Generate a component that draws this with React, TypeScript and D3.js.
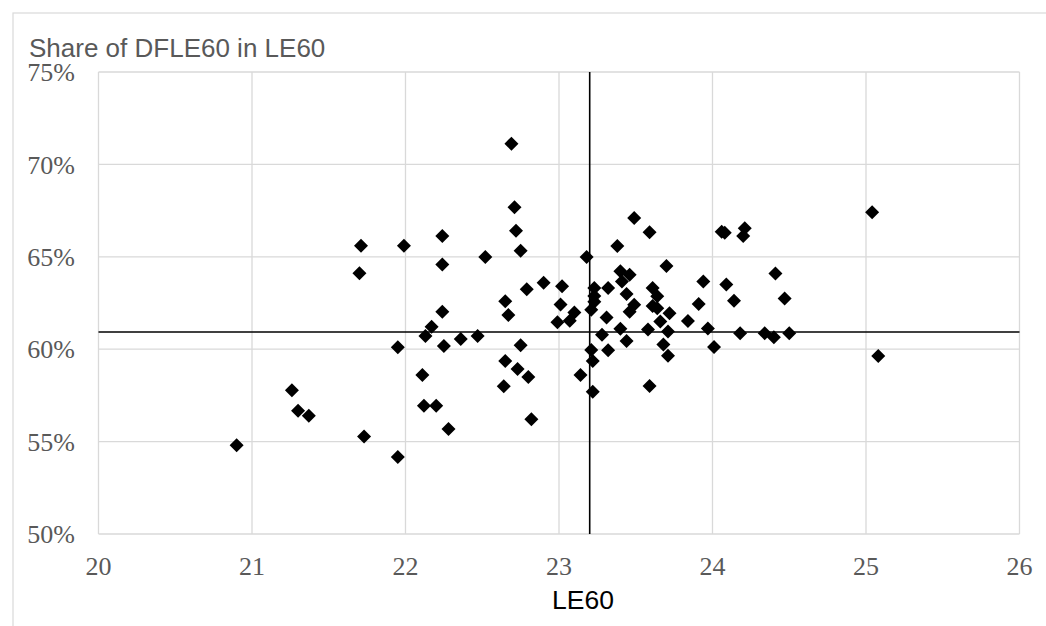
import React from "react";
import * as d3 from "d3";

// LE60 (years) for each point
const le60: number[] = [
  20.9, 21.26, 21.3, 21.37, 21.7, 21.71, 21.73, 21.99, 21.95, 21.95,
  22.11, 22.12, 22.2, 22.13, 22.17, 22.24, 22.24, 22.24, 22.25, 22.28,
  22.36, 22.47, 22.52, 22.64, 22.65, 22.65, 22.67, 22.69, 22.71, 22.72,
  22.73, 22.75, 22.75, 22.79, 22.8, 22.82, 22.9, 22.99, 23.01, 23.02,
  23.07, 23.1, 23.14, 23.18, 23.21, 23.22, 23.22, 23.21, 23.23, 23.23,
  23.23, 23.28, 23.31, 23.32, 23.32, 23.38, 23.4, 23.41, 23.46, 23.44,
  23.4, 23.44, 23.46, 23.49, 23.49, 23.58, 23.59, 23.59, 23.61, 23.64,
  23.61, 23.64, 23.66, 23.68, 23.7, 23.71, 23.71, 23.72, 23.84, 23.91,
  23.94, 23.97, 24.01, 24.06, 24.08, 24.09, 24.14, 24.18, 24.2, 24.21,
  24.34, 24.4, 24.41, 24.47, 24.5, 25.04, 25.08,
];

// Share of DFLE60 in LE60 (%) for each point
const share: number[] = [
  54.8, 57.78, 56.67, 56.4, 64.11, 65.6, 55.27, 65.6, 60.1, 54.17,
  58.6, 56.94, 56.94, 60.71, 61.22, 66.13, 64.59, 62.03, 60.17, 55.68,
  60.55, 60.71, 64.99, 57.99, 62.59, 59.36, 61.85, 71.12, 67.68, 66.41,
  58.93, 60.21, 65.33, 63.24, 58.5, 56.21, 63.6, 61.46, 62.42, 63.4,
  61.54, 61.99, 58.6, 64.99, 59.96, 59.36, 57.7, 62.14, 62.57, 62.88,
  63.31, 60.78, 61.72, 59.94, 63.31, 65.58, 64.22, 63.67, 64.03, 62.99,
  61.11, 60.44, 62.03, 62.41, 67.1, 61.07, 66.33, 58.01, 63.31, 62.86,
  62.34, 62.21, 61.5, 60.25, 64.5, 60.96, 59.65, 61.94, 61.53, 62.44,
  63.67, 61.12, 60.12, 66.36, 66.3, 63.5, 62.62, 60.86, 66.13, 66.54,
  60.86, 60.64, 64.09, 62.75, 60.86, 67.41, 59.63,
];

const xTicks: number[] = [20, 21, 22, 23, 24, 25, 26];
const yTicks: number[] = [50, 55, 60, 65, 70, 75];

const refX = 23.2; // average LE60
const refY = 60.93; // average share

const title = "Share of DFLE60 in LE60";
const xTitle = "LE60";

export default function App() {
  const W = 1046;
  const H = 626;
  const x = d3.scaleLinear().domain([20, 26]).range([98.5, 1019.5]);
  const y = d3.scaleLinear().domain([50, 75]).range([534, 72]);
  const diamond = d3.symbol(d3.symbolSquare, 98)();
  const grid = "#d9d9d9";
  const textGray = "#595959";

  return (
    <svg
      width={W}
      height={H}
      style={{ position: "absolute", left: 0, top: 0, display: "block", background: "#fff" }}
    >
      <rect x={13} y={13} width={1100} height={700} fill="#fff" stroke={grid} strokeWidth={1.2} />
      <text
        x={29}
        y={57}
        fontFamily="'Liberation Sans', Arial, sans-serif"
        fontSize={26}
        fill={textGray}
      >
        {title}
      </text>
      {/* gridlines */}
      {xTicks.map((t) => (
        <line key={"gx" + t} x1={x(t)} x2={x(t)} y1={y(75)} y2={y(50)} stroke={grid} strokeWidth={1.3} />
      ))}
      {yTicks.map((t) => (
        <line key={"gy" + t} x1={x(20)} x2={x(26)} y1={y(t)} y2={y(t)} stroke={grid} strokeWidth={1.3} />
      ))}
      {/* tick labels */}
      {yTicks.map((t) => (
        <text
          key={"ly" + t}
          x={75}
          y={y(t)}
          dy="0.35em"
          textAnchor="end"
          fontFamily="'Liberation Serif', 'Times New Roman', serif"
          fontSize={26}
          fill={textGray}
        >
          {t + "%"}
        </text>
      ))}
      {xTicks.map((t) => (
        <text
          key={"lx" + t}
          x={x(t)}
          y={575}
          textAnchor="middle"
          fontFamily="'Liberation Serif', 'Times New Roman', serif"
          fontSize={26}
          fill={textGray}
        >
          {t}
        </text>
      ))}
      <text
        x={583}
        y={609}
        textAnchor="middle"
        fontFamily="'Liberation Sans', Arial, sans-serif"
        fontSize={26.5}
        fill="#000"
      >
        {xTitle}
      </text>
      {/* reference lines */}
      <line x1={x(refX)} x2={x(refX)} y1={y(75)} y2={y(50)} stroke="#000" strokeWidth={1.6} />
      <line x1={x(20)} x2={x(26)} y1={y(refY)} y2={y(refY)} stroke="#000" strokeWidth={1.6} />
      {/* points */}
      {le60.map((v, i) => (
        <path
          key={"p" + i}
          d={diamond || ""}
          transform={`translate(${x(v)},${y(share[i])}) rotate(45)`}
          fill="#000"
        />
      ))}
    </svg>
  );
}
